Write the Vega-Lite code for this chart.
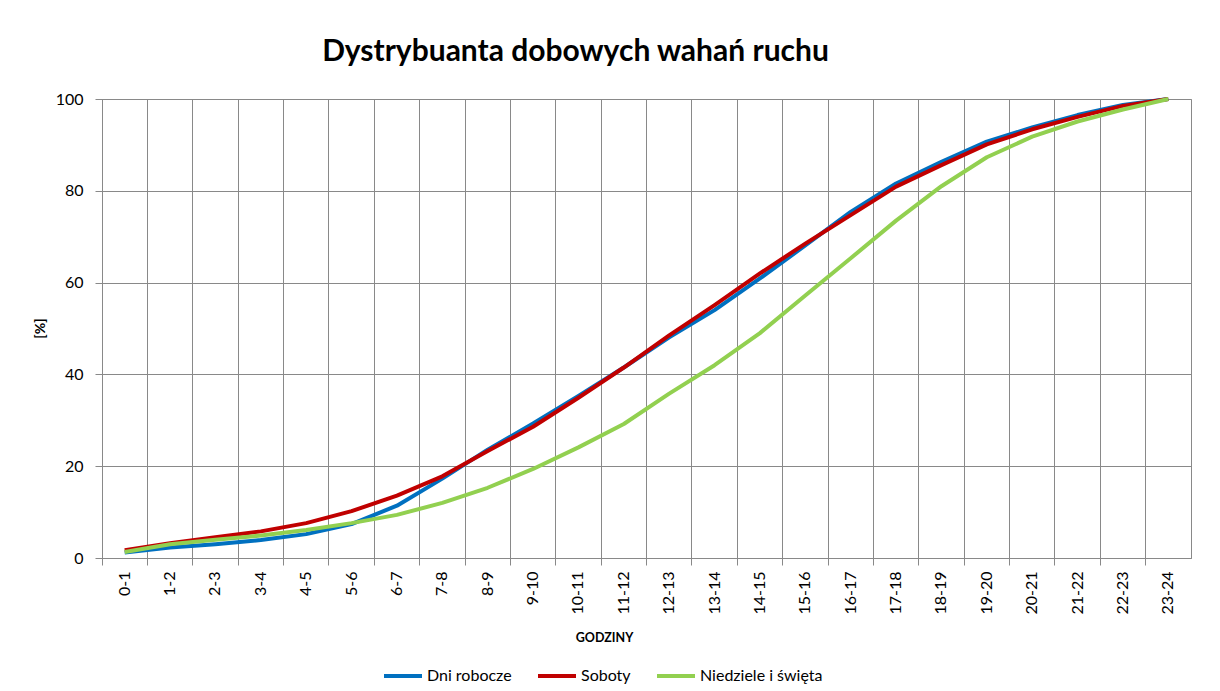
{
  "$schema": "https://vega.github.io/schema/vega-lite/v6.json",
  "autosize": {"type": "none"},
  "padding": {"left": 102, "top": 99, "right": 29, "bottom": 133},
  "width": 1089,
  "height": 459,
  "background": "white",
  "title": {
    "text": "Dystrybuanta dobowych wahań ruchu",
    "font": "Lato",
    "fontSize": 30,
    "fontWeight": "bold",
    "color": "#000000",
    "anchor": "middle",
    "dx": -71,
    "offset": 24
  },
  "datasets": {
    "d": [
      {"h": "0-1", "s": "Dni robocze", "v": 1.2}, {"h": "0-1", "s": "Soboty", "v": 1.7}, {"h": "0-1", "s": "Niedziele i święta", "v": 1.3},
      {"h": "1-2", "s": "Dni robocze", "v": 2.3}, {"h": "1-2", "s": "Soboty", "v": 3.2}, {"h": "1-2", "s": "Niedziele i święta", "v": 3.0},
      {"h": "2-3", "s": "Dni robocze", "v": 3.0}, {"h": "2-3", "s": "Soboty", "v": 4.5}, {"h": "2-3", "s": "Niedziele i święta", "v": 4.0},
      {"h": "3-4", "s": "Dni robocze", "v": 3.9}, {"h": "3-4", "s": "Soboty", "v": 5.8}, {"h": "3-4", "s": "Niedziele i święta", "v": 4.9},
      {"h": "4-5", "s": "Dni robocze", "v": 5.2}, {"h": "4-5", "s": "Soboty", "v": 7.6}, {"h": "4-5", "s": "Niedziele i święta", "v": 6.1},
      {"h": "5-6", "s": "Dni robocze", "v": 7.4}, {"h": "5-6", "s": "Soboty", "v": 10.2}, {"h": "5-6", "s": "Niedziele i święta", "v": 7.6},
      {"h": "6-7", "s": "Dni robocze", "v": 11.4}, {"h": "6-7", "s": "Soboty", "v": 13.6}, {"h": "6-7", "s": "Niedziele i święta", "v": 9.4},
      {"h": "7-8", "s": "Dni robocze", "v": 17.3}, {"h": "7-8", "s": "Soboty", "v": 17.8}, {"h": "7-8", "s": "Niedziele i święta", "v": 12.0},
      {"h": "8-9", "s": "Dni robocze", "v": 23.6}, {"h": "8-9", "s": "Soboty", "v": 23.3}, {"h": "8-9", "s": "Niedziele i święta", "v": 15.3},
      {"h": "9-10", "s": "Dni robocze", "v": 29.3}, {"h": "9-10", "s": "Soboty", "v": 28.6}, {"h": "9-10", "s": "Niedziele i święta", "v": 19.4},
      {"h": "10-11", "s": "Dni robocze", "v": 35.3}, {"h": "10-11", "s": "Soboty", "v": 34.9}, {"h": "10-11", "s": "Niedziele i święta", "v": 24.1},
      {"h": "11-12", "s": "Dni robocze", "v": 41.5}, {"h": "11-12", "s": "Soboty", "v": 41.5}, {"h": "11-12", "s": "Niedziele i święta", "v": 29.2},
      {"h": "12-13", "s": "Dni robocze", "v": 48.1}, {"h": "12-13", "s": "Soboty", "v": 48.5}, {"h": "12-13", "s": "Niedziele i święta", "v": 35.8},
      {"h": "13-14", "s": "Dni robocze", "v": 54.0}, {"h": "13-14", "s": "Soboty", "v": 55.1}, {"h": "13-14", "s": "Niedziele i święta", "v": 42.0},
      {"h": "14-15", "s": "Dni robocze", "v": 60.9}, {"h": "14-15", "s": "Soboty", "v": 62.0}, {"h": "14-15", "s": "Niedziele i święta", "v": 49.0},
      {"h": "15-16", "s": "Dni robocze", "v": 68.1}, {"h": "15-16", "s": "Soboty", "v": 68.5}, {"h": "15-16", "s": "Niedziele i święta", "v": 57.2},
      {"h": "16-17", "s": "Dni robocze", "v": 75.4}, {"h": "16-17", "s": "Soboty", "v": 74.7}, {"h": "16-17", "s": "Niedziele i święta", "v": 65.3},
      {"h": "17-18", "s": "Dni robocze", "v": 81.6}, {"h": "17-18", "s": "Soboty", "v": 80.9}, {"h": "17-18", "s": "Niedziele i święta", "v": 73.5},
      {"h": "18-19", "s": "Dni robocze", "v": 86.3}, {"h": "18-19", "s": "Soboty", "v": 85.6}, {"h": "18-19", "s": "Niedziele i święta", "v": 81.0},
      {"h": "19-20", "s": "Dni robocze", "v": 90.7}, {"h": "19-20", "s": "Soboty", "v": 90.1}, {"h": "19-20", "s": "Niedziele i święta", "v": 87.3},
      {"h": "20-21", "s": "Dni robocze", "v": 93.8}, {"h": "20-21", "s": "Soboty", "v": 93.4}, {"h": "20-21", "s": "Niedziele i święta", "v": 91.8},
      {"h": "21-22", "s": "Dni robocze", "v": 96.5}, {"h": "21-22", "s": "Soboty", "v": 96.1}, {"h": "21-22", "s": "Niedziele i święta", "v": 95.1},
      {"h": "22-23", "s": "Dni robocze", "v": 98.7}, {"h": "22-23", "s": "Soboty", "v": 98.5}, {"h": "22-23", "s": "Niedziele i święta", "v": 97.7},
      {"h": "23-24", "s": "Dni robocze", "v": 100}, {"h": "23-24", "s": "Soboty", "v": 100}, {"h": "23-24", "s": "Niedziele i święta", "v": 100}
    ]
  },
  "data": {"name": "d"},
  "mark": {"type": "line", "strokeWidth": 4, "strokeCap": "butt", "strokeJoin": "round"},
  "encoding": {
    "x": {
      "field": "h",
      "type": "ordinal",
      "sort": null,
      "scale": {"type": "band", "paddingInner": 0, "paddingOuter": 0},
      "axis": {
        "bandPosition": 0,
        "grid": true,
        "labelAngle": -90,
        "labelAlign": "right",
        "labelBaseline": "middle",
        "tickSize": 7,
        "labelPadding": 6,
        "title": "GODZINY",
        "titleFontSize": 12.5,
        "titleFontWeight": "bold",
        "titleX": 502,
        "titleY": 79,
        "titleBaseline": "middle",
        "titleAlign": "center"
      }
    },
    "y": {
      "field": "v",
      "type": "quantitative",
      "scale": {"domain": [0, 100], "nice": false},
      "axis": {
        "values": [0, 20, 40, 60, 80, 100],
        "grid": true,
        "tickSize": 7,
        "labelPadding": 12,
        "title": "[%]",
        "titleFontSize": 14,
        "titleFontWeight": "bold",
        "titleX": -62,
        "titleY": 229,
        "titleAngle": -90,
        "titleAlign": "center",
        "titleBaseline": "middle"
      }
    },
    "color": {
      "field": "s",
      "type": "nominal",
      "sort": ["Dni robocze", "Soboty", "Niedziele i święta"],
      "scale": {"domain": ["Dni robocze", "Soboty", "Niedziele i święta"], "range": ["#0070C0", "#C00000", "#92D050"]},
      "legend": {
        "title": null,
        "orient": "none",
        "legendX": 280,
        "legendY": 556,
        "direction": "horizontal",
        "symbolType": "stroke",
        "symbolSize": 1444,
        "symbolStrokeWidth": 4,
        "labelFontSize": 16,
        "labelOffset": 3,
        "columnPadding": 18
      }
    }
  },
  "config": {
    "font": "Lato",
    "view": {"stroke": "#898989", "strokeWidth": 1},
    "axis": {
      "domainColor": "#898989",
      "tickColor": "#898989",
      "gridColor": "#898989",
      "gridOpacity": 1,
      "gridWidth": 1,
      "labelFont": "Lato",
      "labelFontSize": 16,
      "labelColor": "#000000",
      "titleFont": "Lato",
      "titleColor": "#000000"
    },
    "legend": {"labelFont": "Lato", "labelColor": "#000000"}
  }
}
